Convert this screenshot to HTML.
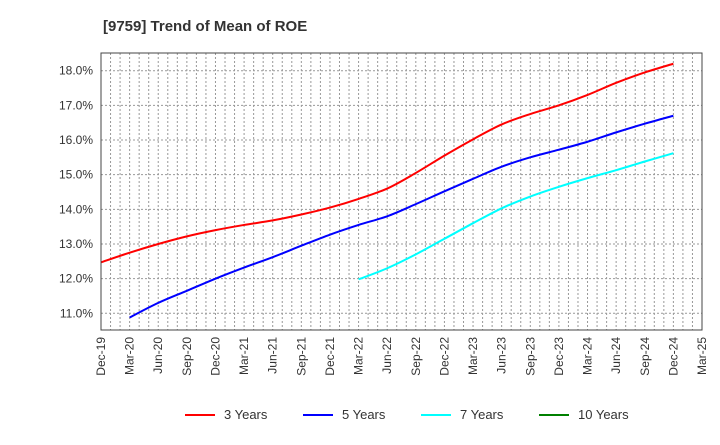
<!DOCTYPE html>
<html><head><meta charset="utf-8"><style>
body{margin:0;background:#fff;font-family:"Liberation Sans",sans-serif;}
svg text{font-family:"Liberation Sans",sans-serif;}
</style></head><body>
<svg id="chart" width="720" height="440">
<text x="103" y="31" font-size="15" font-weight="bold" fill="#333">[9759]  Trend of Mean of ROE</text>
<g id="grid"></g><g id="lines"></g><g id="axes"></g><g id="legend"></g>
</svg>
<script>
const xLabels=["Dec-19","Mar-20","Jun-20","Sep-20","Dec-20","Mar-21","Jun-21","Sep-21","Dec-21","Mar-22","Jun-22","Sep-22","Dec-22","Mar-23","Jun-23","Sep-23","Dec-23","Mar-24","Jun-24","Sep-24","Dec-24","Mar-25"];
const yTicks=[11,12,13,14,15,16,17,18];
const s3=[12.47,12.75,13.0,13.22,13.4,13.55,13.68,13.85,14.05,14.3,14.6,15.05,15.55,16.02,16.45,16.75,17.0,17.3,17.65,17.95,18.2];
const s5=[null,10.88,11.3,11.65,12.0,12.32,12.62,12.95,13.27,13.55,13.8,14.15,14.52,14.88,15.23,15.5,15.72,15.95,16.22,16.47,16.7];
const s7=[null,null,null,null,null,null,null,null,null,11.98,12.3,12.7,13.15,13.6,14.03,14.37,14.65,14.9,15.13,15.38,15.62];
const s10=[];
const seriesNames=["3 Years","5 Years","7 Years","10 Years"];
const colors=["#ff0000","#0000ff","#00ffff","#008000"];
const L=101,R=702,T=53,B=330;
const xs=i=>L+(R-L)*i/(xLabels.length-1);
const ys=v=>313.3-(v-11)*(313.3-70.7)/7;
const NS="http://www.w3.org/2000/svg";
function mk(tag,attrs,parent){const e=document.createElementNS(NS,tag);for(const k in attrs)e.setAttribute(k,attrs[k]);parent.appendChild(e);return e;}
const grid=document.getElementById('grid'),axes=document.getElementById('axes'),lines=document.getElementById('lines'),legend=document.getElementById('legend');
for(let m=1;m<(xLabels.length-1)*3;m++){const x=L+(R-L)*m/((xLabels.length-1)*3);
 const g=mk('line',{x1:x,x2:x,y1:T,y2:B,stroke:'#999','stroke-dasharray':'2,2','stroke-width':1},grid);
 
 }
yTicks.forEach(v=>{const y=ys(v);
 const g=mk('line',{x1:L,x2:R,y1:y,y2:y,stroke:'#999','stroke-dasharray':'2,2','stroke-width':1},grid);
 
 
 const t=mk('text',{x:L-8,y:y+4,'text-anchor':'end','font-size':12,fill:'#333'},axes);t.textContent=v.toFixed(1)+'%';
 
 });
xLabels.forEach((l,i)=>{const x=xs(i);
 const t=mk('text',{transform:`translate(${x+4},${B+7}) rotate(-90)`,'text-anchor':'end','font-size':12,fill:'#333'},axes);t.textContent=l;
 
 });
const fr=mk('rect',{x:L,y:T,width:R-L,height:B-T,fill:'none',stroke:'#444','stroke-width':1},axes);


function path(arr){const p=[];arr.forEach((v,i)=>{if(v!=null)p.push([xs(i),ys(v)]);});if(p.length<2)return'';
 let d=`M${p[0][0]},${p[0][1]}`;for(let i=0;i<p.length-1;i++){const p0=p[i-1]||p[i],p1=p[i],p2=p[i+1],p3=p[i+2]||p2;
 d+=` C${p1[0]+(p2[0]-p0[0])/6},${p1[1]+(p2[1]-p0[1])/6} ${p2[0]-(p3[0]-p1[0])/6},${p2[1]-(p3[1]-p1[1])/6} ${p2[0]},${p2[1]}`;}return d;}
[s3,s5,s7,s10].forEach((s,k)=>{const d=path(s);if(!d)return;
 const e=mk('path',{d:d,fill:'none',stroke:colors[k],'stroke-width':2},lines);
 
 });
seriesNames.forEach((n,k)=>{const x0=185+118*k;
 const g=mk('g',{},legend);
 
 
 mk('line',{x1:x0,x2:x0+30,y1:415,y2:415,stroke:colors[k],'stroke-width':2},g);
 const t=mk('text',{x:x0+39,y:419,'font-size':13,fill:'#333'},g);t.textContent=n;});
</script>
</body></html>
